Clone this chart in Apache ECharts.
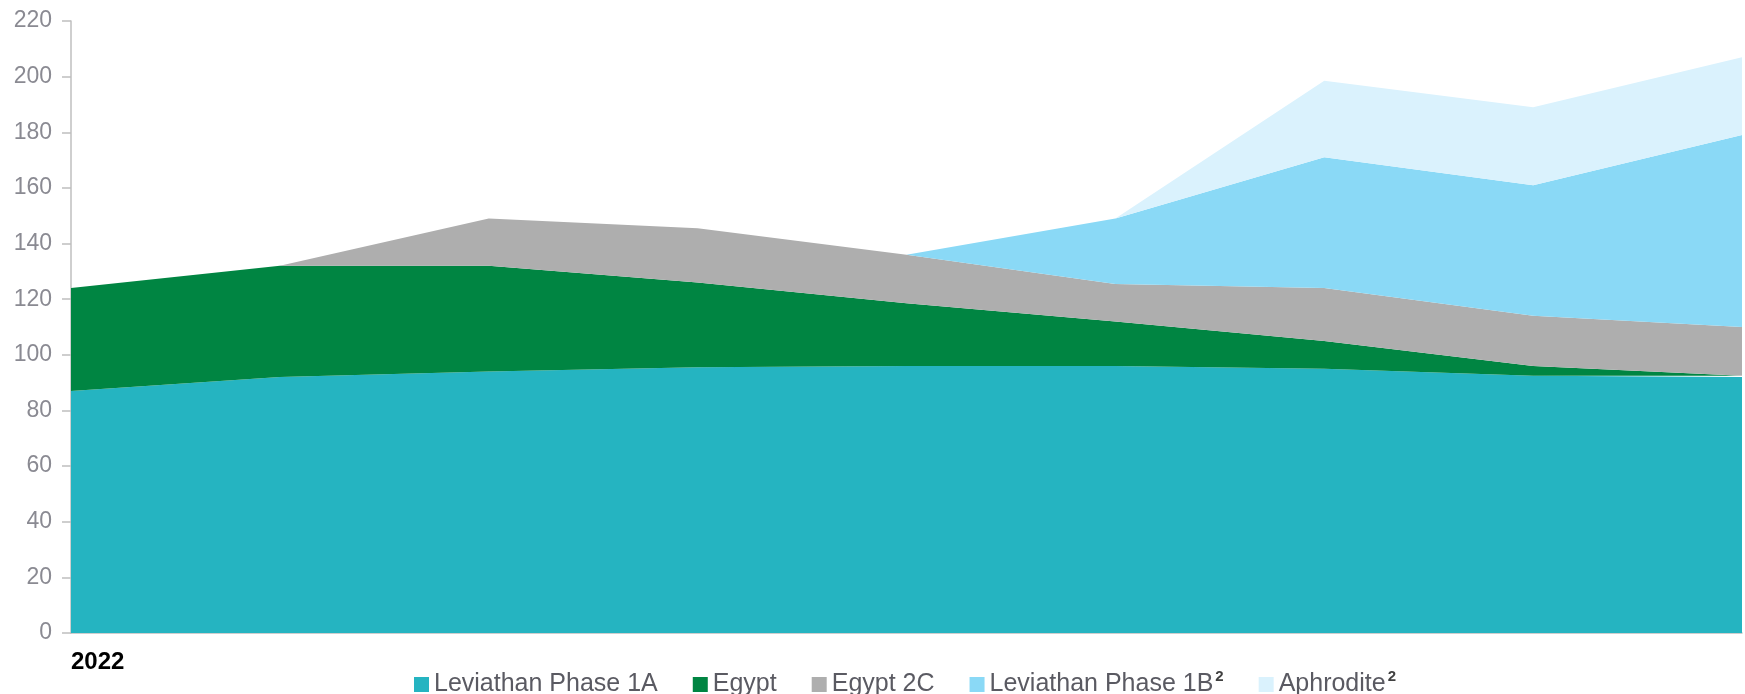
<!DOCTYPE html>
<html>
<head>
<meta charset="utf-8">
<script src="https://cdn.jsdelivr.net/npm/echarts@6/dist/echarts.min.js"></script>
<style>
html,body{margin:0;padding:0;background:#fff;}
#chart{width:1745px;height:694px;}
</style>
</head>
<body>
<div id="chart"></div>
<script>
const categories = ['2022','2023','2024','2025','2026','2027','2028','2029','2030'];
const leviathan1A = [87, 92, 94, 95.5, 96, 96, 95, 92.5, 92];
const egypt = [37, 40, 38, 30.5, 22.5, 16, 10, 3.5, 0.5];
const egypt2C = [0, 0, 17, 19.5, 17.5, 13.5, 19, 18, 17.5];
const leviathan1B = [0, 0, 0, 0, 0, 23.5, 47, 47, 69];
const aphrodite = [0, 0, 0, 0, 0, 0, 27.5, 28, 28];
const yTicks = [0, 220, 20];

const chart = echarts.init(document.getElementById('chart'));
const font = 'Liberation Sans, Arial, sans-serif';
function area(name, data, color) {
  return {
    name: name, type: 'line', stack: 'total', data: data,
    symbol: 'none', smooth: false,
    lineStyle: { width: 0 },
    areaStyle: { color: color, opacity: 1 },
    itemStyle: { color: color },
    emphasis: { disabled: true }
  };
}
chart.setOption({
  animation: false,
  grid: { left: 71, right: 0, top: 21, bottom: 61 },
  legend: {
    bottom: -3, left: 414,
    padding: 0,
    icon: 'rect', itemWidth: 15, itemHeight: 15, itemGap: 35,
    data: ['Leviathan Phase 1A', 'Egypt', 'Egypt 2C', 'Leviathan Phase 1B', 'Aphrodite'],
    formatter: function (n) {
      if (n === 'Leviathan Phase 1B' || n === 'Aphrodite') return n + '{sup|2}';
      return n;
    },
    textStyle: {
      fontFamily: font, fontSize: 25, color: '#5a5a62',
      rich: { sup: { fontFamily: font, fontSize: 15, fontWeight: 'bold', color: '#404040', verticalAlign: 'top', padding: [0, 0, 16, 2] } }
    }
  },
  xAxis: {
    type: 'category', data: categories, boundaryGap: false,
    axisLine: { lineStyle: { color: '#bfbfbf', width: 1.5 } },
    axisTick: { show: false },
    axisLabel: {
      interval: 0, margin: 17,
      formatter: function (v, i) { return i === 0 ? v : ''; },
      align: 'left',
      fontFamily: font, fontSize: 24, fontWeight: 'bold', color: '#000'
    },
    splitLine: { show: false }
  },
  yAxis: {
    type: 'value', min: yTicks[0], max: yTicks[1], interval: yTicks[2],
    axisLine: { show: true, lineStyle: { color: '#bfbfbf', width: 1.5 } },
    axisTick: { show: true, inside: false, length: 9, lineStyle: { color: '#bfbfbf', width: 1.5 } },
    axisLabel: { margin: 19, fontFamily: font, fontSize: 23, color: '#8a8a92' },
    splitLine: { show: false }
  },
  series: [
    area('Leviathan Phase 1A', leviathan1A, '#25B4C1'),
    area('Egypt', egypt, '#008542'),
    area('Egypt 2C', egypt2C, '#AEAEAE'),
    area('Leviathan Phase 1B', leviathan1B, '#8AD9F6'),
    area('Aphrodite', aphrodite, '#DAF2FD')
  ]
});
</script>
</body>
</html>
